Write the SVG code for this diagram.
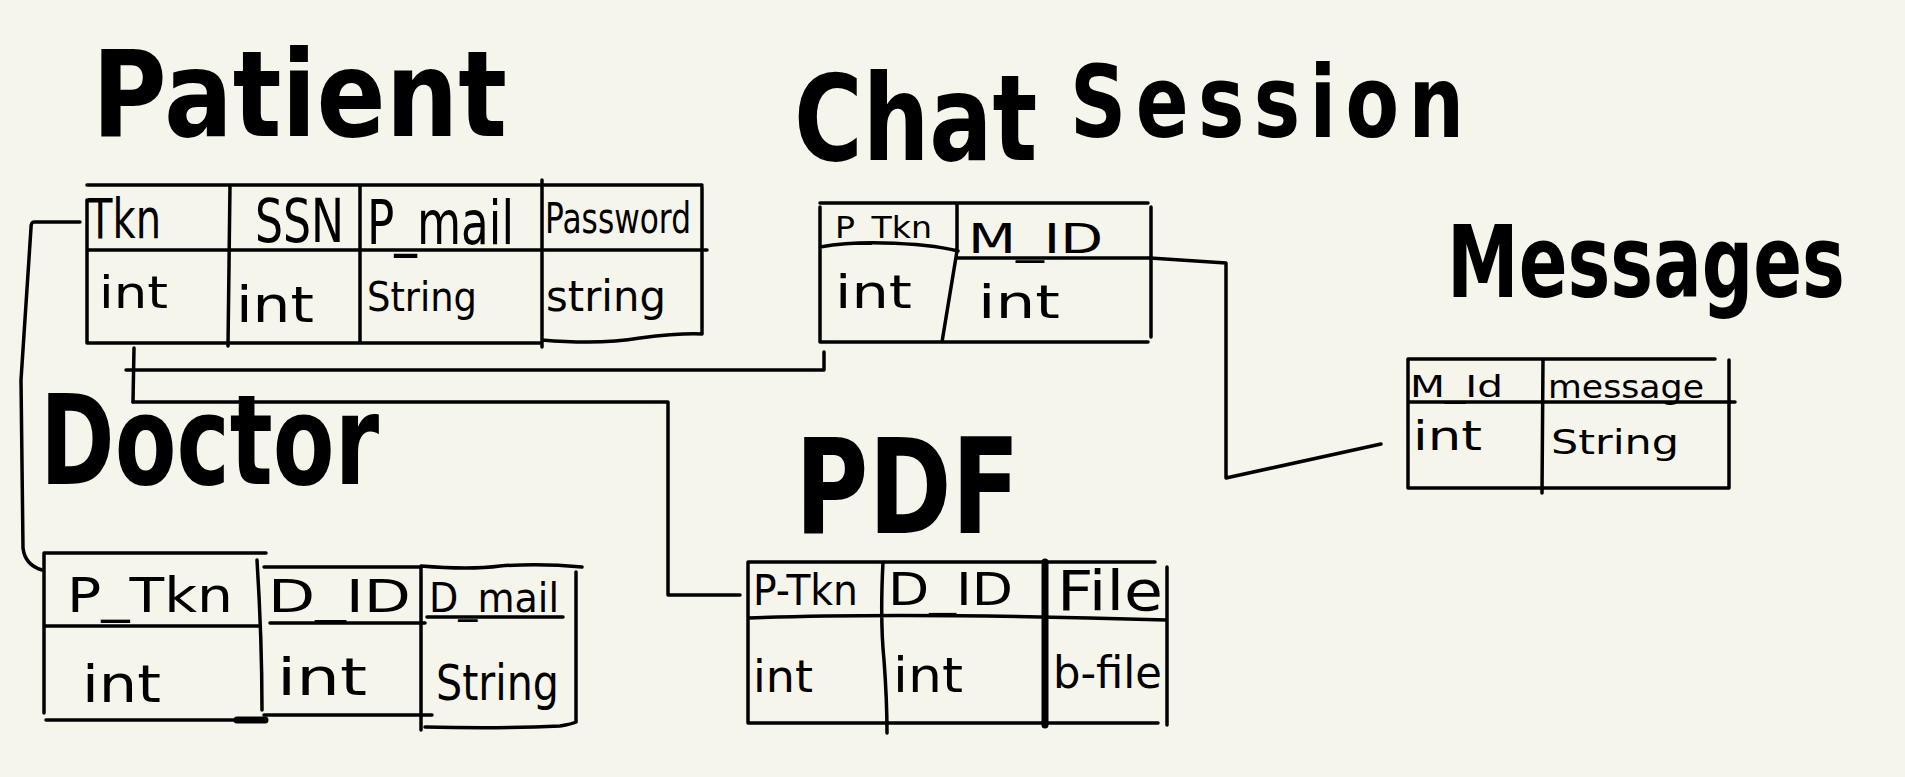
<svg xmlns="http://www.w3.org/2000/svg" width="1905" height="777" viewBox="0 0 1905 777">
<style>
.ln{fill:none;stroke:#000;stroke-width:3.5;stroke-linecap:round;stroke-linejoin:round}
.thk{fill:none;stroke:#000;stroke-width:7;stroke-linecap:round}
.ttl{font-family:"DejaVu Sans",sans-serif;font-weight:bold;fill:#000}
.t{font-family:"DejaVu Sans",sans-serif;fill:#000}
</style>
<rect width="1905" height="777" fill="#f6f5eb"/>
<g id="connectors">
<path class="ln" d="M80,222 H34 Q31,222 31,228 L21,380 L23,548 Q25,565 42,570"/>
<path class="ln" d="M134,348 L133,402"/>
<path class="ln" d="M126,370 H824 V352"/>
<path class="ln" d="M133,402 H668 V595 H740"/>
<path class="ln" d="M1150,258 L1226,263 V478 L1381,444"/>
</g>
<g id="patient">
<text class="ttl" x="92" y="136" font-size="120" textLength="415" lengthAdjust="spacingAndGlyphs">Patient</text>
<path class="ln" d="M87,185 H702 M87,250 H707 M87,200 V343 H542 M230,185 L228,346 M360,185 V343 M542,180 V347 M542,340 Q600,345 640,338 Q680,333 702,334 M702,187 V334"/>
<text class="t" x="88" y="238" font-size="55" textLength="73" lengthAdjust="spacingAndGlyphs">Tkn</text>
<text class="t" x="255" y="242" font-size="60" textLength="89" lengthAdjust="spacingAndGlyphs">SSN</text>
<text class="t" x="367" y="244" font-size="60" textLength="147" lengthAdjust="spacingAndGlyphs">P_mail</text>
<text class="t" x="545" y="233" font-size="42" textLength="146" lengthAdjust="spacingAndGlyphs">Password</text>
<text class="t" x="99" y="308" font-size="44" textLength="69" lengthAdjust="spacingAndGlyphs">int</text>
<text class="t" x="236" y="322" font-size="50" textLength="78" lengthAdjust="spacingAndGlyphs">int</text>
<text class="t" x="367" y="311" font-size="40" textLength="110" lengthAdjust="spacingAndGlyphs">String</text>
<text class="t" x="546" y="311" font-size="42" textLength="120" lengthAdjust="spacingAndGlyphs">string</text>
</g>
<g id="chat-session">
<text class="ttl" transform="translate(794,0) scale(0.78,1)"><tspan x="0" y="160" font-size="120">Chat</tspan><tspan x="354" y="137" font-size="100" letter-spacing="12">Session</tspan></text>
<path class="ln" d="M820,203 H1148 M820,207 V342 H1148 M820,247 Q850,242 883,243 Q930,244 958,251 M958,258 H1150 M957,203 V251 L942,342 M1151,207 V337"/>
<text class="t" x="835" y="238" font-size="30" textLength="97" lengthAdjust="spacingAndGlyphs">P_Tkn</text>
<text class="t" x="968" y="253" font-size="40" textLength="135" lengthAdjust="spacingAndGlyphs">M_ID</text>
<text class="t" x="835" y="308" font-size="46" textLength="77" lengthAdjust="spacingAndGlyphs">int</text>
<text class="t" x="978" y="318" font-size="46" textLength="82" lengthAdjust="spacingAndGlyphs">int</text>
</g>
<g id="messages">
<text class="ttl" transform="translate(1447,297) scale(0.72,1)" font-size="100">Messages</text>
<path class="ln" d="M1408,359 H1715 M1729,360 V488 M1408,359 V488 H1729 M1408,402 H1735 M1543,359 L1542,493"/>
<text class="t" x="1410" y="397" font-size="30" textLength="93" lengthAdjust="spacingAndGlyphs">M_Id</text>
<text class="t" x="1548" y="398" font-size="32" textLength="156" lengthAdjust="spacingAndGlyphs">message</text>
<text class="t" x="1413" y="450" font-size="40" textLength="69" lengthAdjust="spacingAndGlyphs">int</text>
<text class="t" x="1551" y="454" font-size="34" textLength="128" lengthAdjust="spacingAndGlyphs">String</text>
</g>
<g id="doctor">
<text class="ttl" x="40" y="484" font-size="125" textLength="339" lengthAdjust="spacingAndGlyphs">Doctor</text>
<path class="ln" d="M44,553 H266 M44,553 V713 M44,626 H260 M46,720 H266 M257,560 Q262,640 262,710 M264,567 H421 M270,623 H425 M264,715 H432 M421,567 V730 M421,566 Q470,570 500,566 Q540,563 582,567 M576,572 V722 M425,727 Q500,729 560,726 Q572,724 576,722 M427,617 H563"/>
<path class="thk" d="M237,720 H265"/>
<text class="t" x="67" y="612" font-size="48" textLength="166" lengthAdjust="spacingAndGlyphs">P_Tkn</text>
<text class="t" x="268" y="612" font-size="44" textLength="143" lengthAdjust="spacingAndGlyphs">D_ID</text>
<text class="t" x="429" y="612" font-size="40" textLength="130" lengthAdjust="spacingAndGlyphs">D_mail</text>
<text class="t" x="82" y="702" font-size="52" textLength="79" lengthAdjust="spacingAndGlyphs">int</text>
<text class="t" x="277" y="695" font-size="52" textLength="90" lengthAdjust="spacingAndGlyphs">int</text>
<text class="t" x="436" y="700" font-size="50" textLength="123" lengthAdjust="spacingAndGlyphs">String</text>
</g>
<g id="pdf">
<text class="ttl" x="795" y="533" font-size="132" textLength="225" lengthAdjust="spacingAndGlyphs">PDF</text>
<path class="ln" d="M748,562 H1155 M748,562 V723 H1158 M748,618 Q900,612 1167,620 M1167,567 V725 M883,562 Q880,620 884,660 Q887,700 887,733"/>
<path class="thk" d="M1045,562 V725"/>
<text class="t" x="753" y="605" font-size="42" textLength="105" lengthAdjust="spacingAndGlyphs">P-Tkn</text>
<text class="t" x="888" y="605" font-size="45" textLength="125" lengthAdjust="spacingAndGlyphs">D_ID</text>
<text class="t" x="1057" y="610" font-size="56" textLength="106" lengthAdjust="spacingAndGlyphs">File</text>
<text class="t" x="753" y="692" font-size="45" textLength="60" lengthAdjust="spacingAndGlyphs">int</text>
<text class="t" x="893" y="692" font-size="48" textLength="70" lengthAdjust="spacingAndGlyphs">int</text>
<text class="t" x="1053" y="688" font-size="44" textLength="109" lengthAdjust="spacingAndGlyphs">b-file</text>
</g>
</svg>
